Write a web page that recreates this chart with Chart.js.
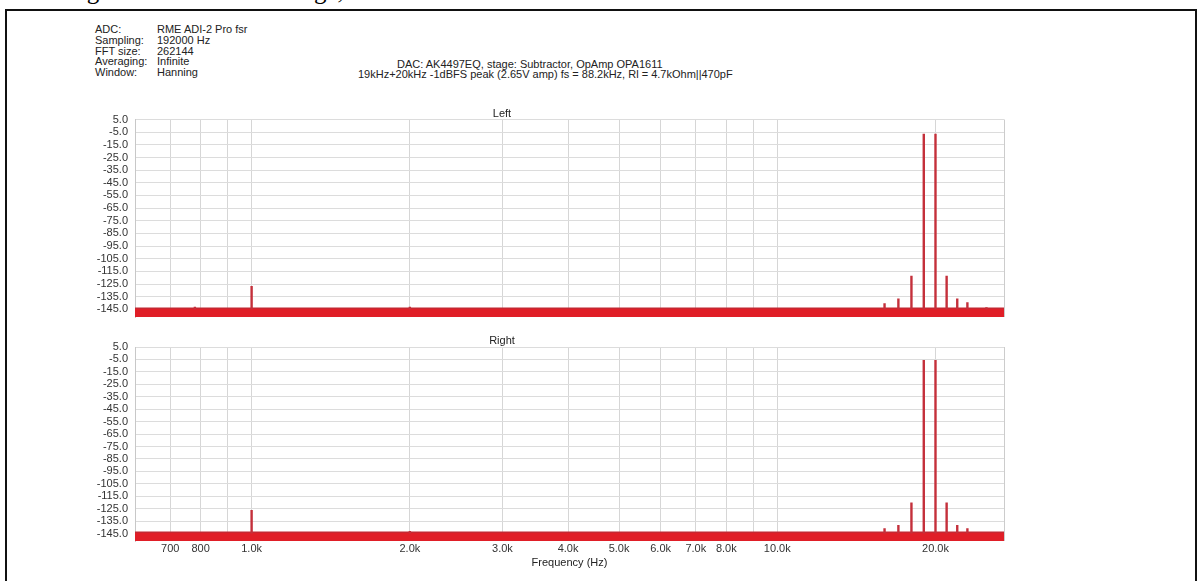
<!DOCTYPE html>
<html>
<head>
<meta charset="utf-8">
<title>Subtractor OPA1611 – 19kHz+20kHz IMD spectrum</title>
<script src="https://cdn.jsdelivr.net/npm/chart.js@4/dist/chart.umd.min.js"></script>
<style>
  html, body { margin: 0; padding: 0; background: #fff; width: 1200px; height: 581px; overflow: hidden; position: relative;
    font-family: "Liberation Sans", Arial, sans-serif; }
  #caption { position: absolute; left: 66px; top: -21px; font: 25px/24px "Liberation Serif", "Times New Roman", serif;
    color: #000; white-space: nowrap; }
  #frame { position: absolute; left: 5px; top: 9px; width: 1188px; height: 620px; border: 2px solid #111; }
  .hdr { position: absolute; font-size: 11px; line-height: 10.8px; color: #222; white-space: nowrap; }
  canvas { position: absolute; left: 0; }
</style>
</head>
<body>
<div id="caption">Figure 30: Subtractor stage, OPA1611 – IMD 19kHz+20kHz</div>
<div id="frame"></div>

<div class="hdr" style="left:95px;top:24px">ADC:<br>Sampling:<br>FFT size:<br>Averaging:<br>Window:</div>
<div class="hdr" style="left:157px;top:24px">RME ADI-2 Pro fsr<br>192000 Hz<br>262144<br>Infinite<br>Hanning</div>
<div class="hdr" style="left:397px;top:58.6px">DAC: AK4497EQ, stage: Subtractor, OpAmp OPA1611</div>
<div class="hdr" style="left:358px;top:69.4px">19kHz+20kHz -1dBFS peak (2.65V amp) fs = 88.2kHz, Rl = 4.7kOhm||470pF</div>

<canvas id="left" width="1200" height="220" style="top:100px"></canvas>
<canvas id="right" width="1200" height="256" style="top:325px"></canvas>

<script>
// ---- spectrum data (dBFS) ----
const noiseFreq  = [600, 27000];
const noiseLeft  = [-144, -144];
const noiseRight = [-144, -144];

const leftFreq  = [780, 1000, 2000, 16000, 17000, 18000, 19000, 20000, 21000, 22000, 23000, 25000];
const leftLevel = [-143, -126.6, -143, -140.2, -136.3, -118.5, -6.3, -6.3, -118.5, -136.3, -139.4, -143.3];

const rightFreq  = [1000, 2000, 16000, 17000, 18000, 19000, 20000, 21000, 22000, 23000];
const rightLevel = [-126.1, -143, -140.7, -138.1, -120, -5.5, -5.5, -120, -138.1, -140.7];

// ---- axes ----
const yTicks = [5, -5, -15, -25, -35, -45, -55, -65, -75, -85, -95, -105, -115, -125, -135, -145];
const xGrid  = [700, 800, 900, 1000, 2000, 3000, 4000, 5000, 6000, 7000, 8000, 9000, 10000, 20000];
const xLabelFreq = [700, 800, 1000, 2000, 3000, 4000, 5000, 6000, 7000, 8000, 10000, 20000];
const xLabelText = ['700', '800', '1.0k', '2.0k', '3.0k', '4.0k', '5.0k', '6.0k', '7.0k', '8.0k', '10.0k', '20.0k'];

const SPIKE_BASE = -145;
const Y_MIN = -151, Y_MAX = 5;

Chart.defaults.font.family = '"Liberation Sans", Arial, sans-serif';
Chart.defaults.font.size = 11;
Chart.defaults.color = '#333';

// right edge of the plotting area
const areaFrame = {
  id: 'areaFrame',
  afterDraw(chart) {
    const { ctx, chartArea: a } = chart;
    ctx.save();
    ctx.strokeStyle = '#cccccc';
    ctx.lineWidth = 1;
    ctx.beginPath();
    ctx.moveTo(Math.round(a.right) + 0.5, a.top);
    ctx.lineTo(Math.round(a.right) + 0.5, a.bottom);
    ctx.stroke();
    ctx.restore();
  }
};

function spikePoints(freqs, levels) {
  const pts = [];
  freqs.forEach((f, i) => {
    pts.push({ x: f, y: SPIKE_BASE }, { x: f, y: levels[i] }, { x: f, y: null });
  });
  return pts;
}

function makeChart(id, title, noise, freqs, levels, opts) {
  return new Chart(document.getElementById(id), {
    type: 'scatter',
    data: {
      datasets: [
        {
          label: 'noise',
          data: noiseFreq.map((f, i) => ({ x: f, y: noise[i] })),
          showLine: true,
          fill: 'start',
          backgroundColor: '#e01e27',
          borderColor: '#c42832',
          borderWidth: 1.5,
          pointRadius: 0,
          order: 2
        },
        {
          label: title,
          data: spikePoints(freqs, levels),
          showLine: true,
          spanGaps: false,
          borderColor: '#c4303b',
          borderWidth: 2.4,
          pointRadius: 0,
          fill: false,
          order: 1
        }
      ]
    },
    options: {
      responsive: false,
      animation: false,
      events: [],
      layout: { padding: opts.layoutPad },
      plugins: {
        legend: { display: false },
        tooltip: { enabled: false },
        title: {
          display: true,
          text: title,
          color: '#222',
          font: { size: 11, weight: 'normal', lineHeight: 1 },
          padding: opts.titlePad
        }
      },
      scales: {
        x: {
          type: 'logarithmic',
          min: 600,
          max: 27000,
          afterBuildTicks: s => { s.ticks = xGrid.map(v => ({ value: v })); },
          afterFit: s => {
            s.paddingLeft = 0; s.paddingRight = 0;
            if (!opts.showX) s.height = 0;
          },
          grid: { color: '#d6d6d6', drawTicks: false },
          border: { display: false },
          ticks: {
            display: opts.showX,
            autoSkip: false,
            maxRotation: 0,
            padding: 1,
            color: '#333',
            callback: v => {
              const k = xLabelFreq.indexOf(v);
              return k >= 0 ? xLabelText[k] : '';
            }
          },
          title: {
            display: opts.showX,
            text: 'Frequency (Hz)',
            color: '#222',
            font: { size: 11 },
            padding: { top: 0, bottom: 0 }
          }
        },
        y: {
          min: Y_MIN,
          max: Y_MAX,
          afterBuildTicks: s => { s.ticks = yTicks.map(v => ({ value: v })); },
          afterFit: s => { s.width = 135; s.paddingTop = 0; s.paddingBottom = 0; },
          grid: { color: '#dcdcdc', drawTicks: false },
          border: { display: true, color: '#c8c8c8' },
          ticks: { autoSkip: false, padding: 7, color: '#333', callback: v => Number(v).toFixed(1) }
        }
      }
    },
    plugins: [areaFrame]
  });
}

makeChart('left', 'Left', noiseLeft, leftFreq, leftLevel, {
  showX: false,
  titlePad: { top: 8.5, bottom: 0 },
  layoutPad: { top: 0, left: 0, right: 196, bottom: 3 }
});

makeChart('right', 'Right', noiseRight, rightFreq, rightLevel, {
  showX: true,
  titlePad: { top: 10.5, bottom: 0.5 },
  layoutPad: { top: 0, left: 0, right: 196, bottom: 11.6 }
});
</script>
</body>
</html>
